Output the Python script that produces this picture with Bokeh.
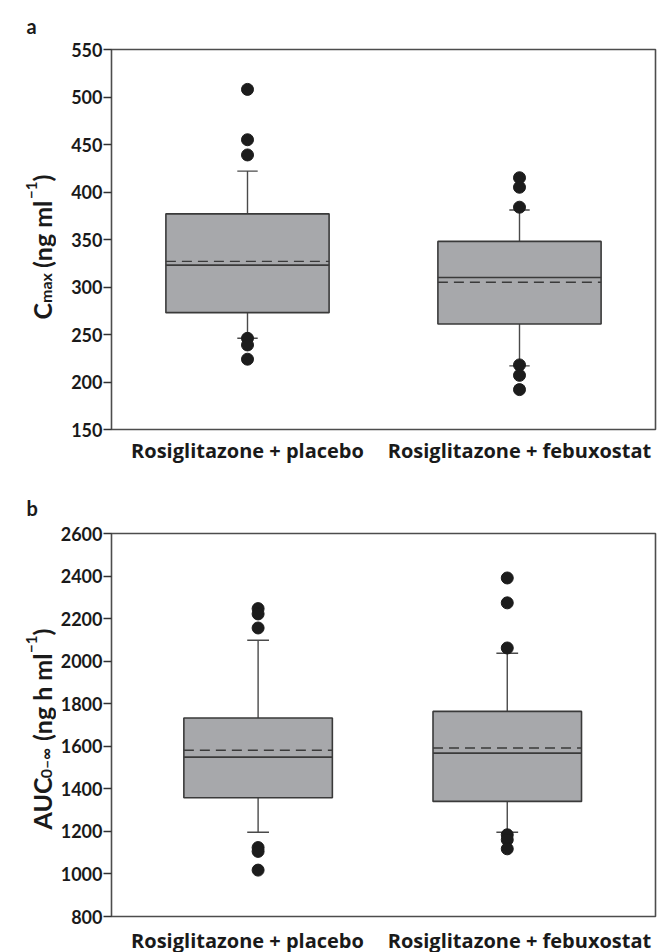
import math
from bokeh.plotting import figure
from bokeh.layouts import column, row
from bokeh.models import ColumnDataSource, FactorRange, Range1d, FixedTicker
from bokeh.transform import dodge
from bokeh.core.properties import value
from bokeh.embed import file_html
from bokeh.resources import INLINE

GROUPS = ["Rosiglitazone + placebo", "Rosiglitazone + febuxostat"]

# Panel a: Cmax (ng/ml)
CMAX_Q1 = [273, 261]
CMAX_MEDIAN = [323, 310]
CMAX_MEAN = [327, 305]
CMAX_Q3 = [377, 348]
CMAX_WLOW = [246, 217]
CMAX_WHIGH = [422, 381]
CMAX_OUT = [[508, 455, 439, 246, 239, 224],
            [415, 405, 384, 218, 207, 192]]
CMAX_TICKS = [150, 200, 250, 300, 350, 400, 450, 500, 550]

# Panel b: AUC0-inf (ng h/ml)
AUC_Q1 = [1358, 1341]
AUC_MEDIAN = [1549, 1568]
AUC_MEAN = [1581, 1592]
AUC_Q3 = [1733, 1764]
AUC_WLOW = [1196, 1196]
AUC_WHIGH = [2098, 2037]
AUC_OUT = [[2247, 2222, 2156, 1124, 1106, 1018],
           [2391, 2274, 2062, 1184, 1161, 1118]]
AUC_TICKS = [800, 1000, 1200, 1400, 1600, 1800, 2000, 2200, 2400, 2600]

FONT = "Lato"
CAT_FONT = "Open Sans"
BOX_FILL = "#a7a8ab"
BOX_LINE = "#3a3a3a"
WHISK = "#4a4a4a"
DOT = "#1c1c1c"
TXT = "#1a1a1a"

# approximate advance widths (em) used to chain the rotated title pieces
WID = {'C': .66, 'm': .86, 'a': .64, 'x': .69, ' ': .2, '(': .32, ')': .32,
       'n': .56, 'g': .5, 'l': .12, 'h': .56, '−': .58, '1': .58, 'A': .68,
       'U': .71, '0': .58, '–': .6, '∞': 1.15}

TITLE_W = 56


def text_w(t, size):
    return sum(WID.get(c, .55) for c in t) * size


def title_panel(frame_h, top, bottom, letter, letter_standoff, pieces, start_y, base_x):
    t = figure(x_range=Range1d(0, TITLE_W), y_range=Range1d(0, frame_h),
               frame_width=TITLE_W, frame_height=frame_h,
               min_border_left=0, min_border_right=0,
               min_border_top=top, min_border_bottom=bottom,
               x_axis_location=None, y_axis_location=None,
               output_backend="svg", toolbar_location=None)
    t.xgrid.visible = False
    t.ygrid.visible = False
    t.outline_line_color = None
    t.title.text = letter
    t.title.align = "left"
    t.title.offset = 26
    t.title.standoff = letter_standoff
    t.title.text_font = FONT
    t.title.text_font_style = "bold"
    t.title.text_font_size = "20px"
    t.title.text_color = TXT
    y = start_y
    for txt, size, shift in pieces:
        t.text(x=[base_x + shift], y=[y], text=[txt], angle=math.pi / 2,
               text_font=value(FONT), text_font_style="bold",
               text_font_size=f"{size}px", text_color=TXT,
               text_baseline="alphabetic", text_align="left")
        y += text_w(txt, size)
    return t


def make_panel(q1, med, mean, q3, wlo, whi, outs, ticks, offsets, box_w, cap_w,
               frame_h, top, bottom, standoff):
    p = figure(x_range=FactorRange(*GROUPS),
               y_range=Range1d(ticks[0], ticks[-1]),
               frame_width=544, frame_height=frame_h,
               min_border_left=111 - TITLE_W, min_border_right=12,
               min_border_top=top, min_border_bottom=bottom,
               output_backend="svg", toolbar_location=None)
    p.xgrid.visible = False
    p.ygrid.visible = False
    p.outline_line_color = "#4d4d4d"
    p.outline_line_width = 1.6

    yax = p.yaxis[0]
    yax.ticker = FixedTicker(ticks=ticks)
    yax.axis_line_color = None
    yax.major_tick_line_color = "#333333"
    yax.major_tick_line_width = 1.5
    yax.major_tick_out = 8
    yax.major_tick_in = 0
    yax.minor_tick_line_color = None
    yax.major_label_text_font = FONT
    yax.major_label_text_font_style = "bold"
    yax.major_label_text_font_size = "18px"
    yax.major_label_text_color = TXT
    yax.major_label_standoff = 1

    xax = p.xaxis[0]
    xax.axis_line_color = None
    xax.major_tick_line_color = None
    xax.minor_tick_line_color = None
    xax.major_label_text_font = CAT_FONT
    xax.major_label_text_font_style = "bold"
    xax.major_label_text_font_size = "20px"
    xax.major_label_text_color = TXT
    xax.major_label_standoff = standoff

    for i, g in enumerate(GROUPS):
        off = offsets[i]
        src = ColumnDataSource(dict(g=[g], q1=[q1[i]], med=[med[i]], mean=[mean[i]],
                                    q3=[q3[i]], lo=[wlo[i]], hi=[whi[i]]))
        xc = dodge("g", off, range=p.x_range)
        xl = dodge("g", off - box_w / 2, range=p.x_range)
        xr = dodge("g", off + box_w / 2, range=p.x_range)
        cl = dodge("g", off - cap_w / 2, range=p.x_range)
        cr = dodge("g", off + cap_w / 2, range=p.x_range)
        p.segment(x0=xc, y0="q3", x1=xc, y1="hi", source=src, line_color=WHISK, line_width=1.4)
        p.segment(x0=xc, y0="q1", x1=xc, y1="lo", source=src, line_color=WHISK, line_width=1.4)
        p.segment(x0=cl, y0="hi", x1=cr, y1="hi", source=src, line_color=WHISK, line_width=1.4)
        p.segment(x0=cl, y0="lo", x1=cr, y1="lo", source=src, line_color=WHISK, line_width=1.4)
        p.vbar(x=xc, width=box_w, bottom="q1", top="q3", source=src,
               fill_color=BOX_FILL, line_color=BOX_LINE, line_width=1.6)
        p.segment(x0=xl, y0="med", x1=xr, y1="med", source=src, line_color=BOX_LINE, line_width=1.6)
        p.segment(x0=xl, y0="mean", x1=xr, y1="mean", source=src, line_color=BOX_LINE,
                  line_width=1.4, line_dash="10 6")
        osrc = ColumnDataSource(dict(g=[g] * len(outs[i]), y=outs[i]))
        p.scatter(x=xc, y="y", source=osrc, size=12, fill_color=DOT, line_color=DOT)
    return p


pa = make_panel(CMAX_Q1, CMAX_MEDIAN, CMAX_MEAN, CMAX_Q3, CMAX_WLOW, CMAX_WHIGH, CMAX_OUT,
                CMAX_TICKS, offsets=[0.0, 0.0], box_w=0.6, cap_w=0.075,
                frame_h=380, top=48, bottom=42, standoff=1)
ta = title_panel(380, 48, 42, "a", 23,
                 [("C", 25, 0), ("max", 16, 4), (" (ng ml", 25, 0), ("−1", 15, -10), (")", 25, 0)],
                 start_y=110, base_x=41)

pb = make_panel(AUC_Q1, AUC_MEDIAN, AUC_MEAN, AUC_Q3, AUC_WLOW, AUC_WHIGH, AUC_OUT,
                AUC_TICKS, offsets=[0.039, -0.045], box_w=0.546, cap_w=0.08,
                frame_h=383, top=62, bottom=37, standoff=4)
tb = title_panel(383, 62, 37, "b", 27,
                 [("AUC", 25, 0), ("0–∞", 16, 4), (" (ng h ml", 25, 0), ("−1", 15, -10), (")", 25, 0)],
                 start_y=87, base_x=41)

layout = column(row(ta, pa, spacing=0), row(tb, pb, spacing=0), spacing=0)
open("out.html", "w").write(file_html(layout, INLINE))
